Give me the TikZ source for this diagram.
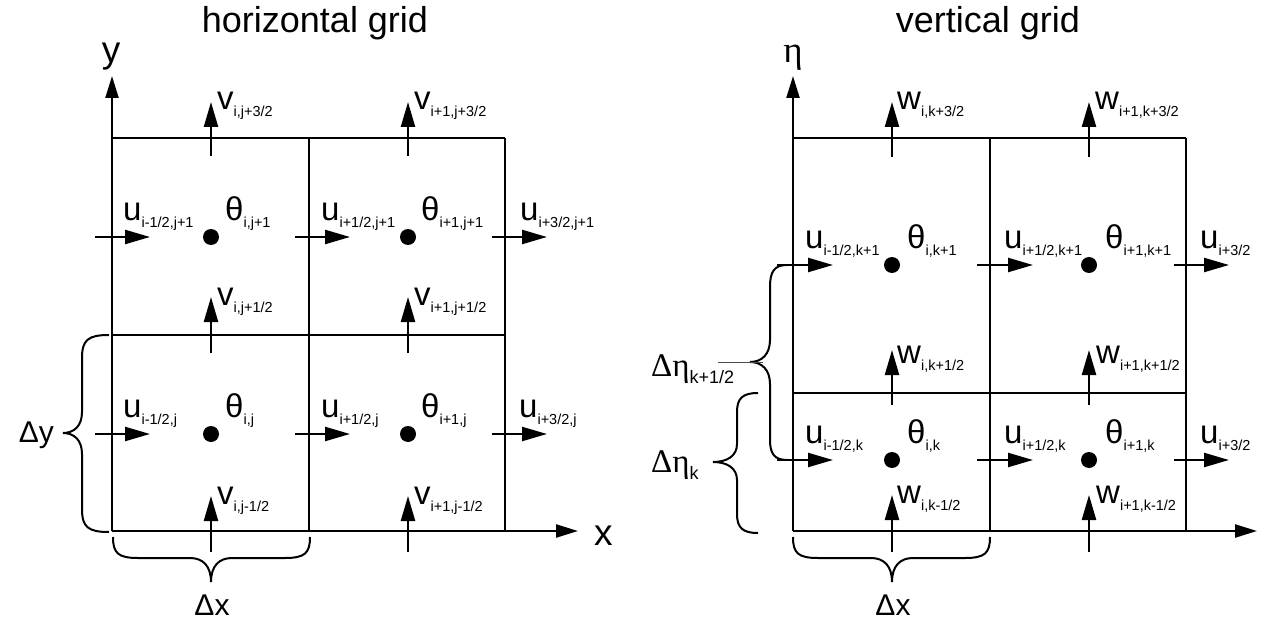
\documentclass[tikz,border=0pt]{standalone}
\usepackage{fontspec}
\setmainfont{Liberation Sans}
\newfontfamily\serifgr{Liberation Serif}
\usetikzlibrary{arrows.meta}
\newcommand\sym[2]{\fontsize{33}{33}\selectfont #1\raisebox{-7pt}{\fontsize{14.5}{15}\selectfont #2}}
\newcommand\deta[1]{{\serifgr\fontsize{33}{33}\selectfont Δη}\raisebox{-7pt}{\fontsize{18}{18}\selectfont #1}}
\begin{document}
\begin{tikzpicture}[x=1pt,y=-1pt,
  gridline/.style={line width=2.3pt},
  vec/.style={line width=2.3pt,-{Triangle[length=25pt,width=14pt]}},
  axis/.style={line width=2.3pt,-{Triangle[length=22pt,width=13pt]}},
  lab/.style={anchor=base west,inner sep=0pt},
  dotnode/.style={circle,fill,inner sep=0pt,minimum size=16pt},
  bracepath/.style={line width=2pt},
  ttl/.style={anchor=base,inner sep=0pt,font=\fontsize{36}{36}\selectfont},
  dlab/.style={inner sep=0pt,font=\fontsize{30}{30}\selectfont}]
\useasboundingbox (0,0) rectangle (1264,623);
\fill[white] (0,0) rectangle (1264,623);

% ================= horizontal grid =================
\node[ttl] (t1) at (315,33) {horizontal grid};
\coordinate (Lo) at (112,531);
\coordinate (Ly) at (112,76);
\coordinate (Lx) at (578,531);
\draw[axis] (Lo) -- (Ly);
\draw[axis] (Lo) -- (Lx);
\draw[gridline] (112,138) -- (505,138);
\draw[gridline] (112,335) -- (505,335);
\draw[gridline] (309,138) -- (309,531);
\draw[gridline] (505,138) -- (505,531);
\node[anchor=base,inner sep=0pt,font=\fontsize{37}{37}\selectfont] (ylab) at (111,63) {y};
\node[anchor=base west,inner sep=0pt,font=\fontsize{37}{37}\selectfont] (xlab) at (594,545) {x};

% u arrows
\foreach \y in {237,434}{
  \coordinate (a1) at (95,\y);  \coordinate (b1) at (150,\y);
  \coordinate (a2) at (295,\y); \coordinate (b2) at (350,\y);
  \coordinate (a3) at (492,\y); \coordinate (b3) at (547,\y);
  \draw[vec] (a1) -- (b1);
  \draw[vec] (a2) -- (b2);
  \draw[vec] (a3) -- (b3);
}
% v arrows
\foreach \s/\t in {156/102,353/297,552/496}{
  \coordinate (c1) at (211,\s); \coordinate (d1) at (211,\t);
  \coordinate (c2) at (408,\s); \coordinate (d2) at (408,\t);
  \draw[vec] (c1) -- (d1);
  \draw[vec] (c2) -- (d2);
}
\node[dotnode] (p11) at (211,237) {};
\node[dotnode] (p21) at (408,237) {};
\node[dotnode] (p10) at (211,434) {};
\node[dotnode] (p20) at (408,434) {};

\node[lab] (lv1) at (217,110) {\sym{v}{i,j+3/2}};
\node[lab] (lv2) at (414,110) {\sym{v}{i+1,j+3/2}};
\node[lab] (lu1) at (123,220) {\sym{u}{i-1/2,j+1}};
\node[lab] (lt1) at (225,220) {\sym{θ}{i,j+1}};
\node[lab] (lu2) at (321,220) {\sym{u}{i+1/2,j+1}};
\node[lab] (lt2) at (421,220) {\sym{θ}{i+1,j+1}};
\node[lab] (lu3) at (520,220) {\sym{u}{i+3/2,j+1}};
\node[lab] (lv3) at (217,305) {\sym{v}{i,j+1/2}};
\node[lab] (lv4) at (414,305) {\sym{v}{i+1,j+1/2}};
\node[lab] (lu4) at (123,417) {\sym{u}{i-1/2,j}};
\node[lab] (lt3) at (225,417) {\sym{θ}{i,j}};
\node[lab] (lu5) at (321,417) {\sym{u}{i+1/2,j}};
\node[lab] (lt4) at (421,417) {\sym{θ}{i+1,j}};
\node[lab] (lu6) at (519,417) {\sym{u}{i+3/2,j}};
\node[lab] (lv5) at (217,504) {\sym{v}{i,j-1/2}};
\node[lab] (lv6) at (414,504) {\sym{v}{i+1,j-1/2}};

% braces
\draw[bracepath] (109,335) .. controls (88,335) and (82,340) .. (82,358) -- (82,412)
  .. controls (82,426) and (74,433) .. (63,433)
  .. controls (74,433) and (82,440) .. (82,454) -- (82,509)
  .. controls (82,527) and (88,532) .. (109,532);
\node[dlab,anchor=base east] (dy) at (54,442) {Δy};
\draw[bracepath] (113,537) .. controls (113,553) and (118,558) .. (138,558) -- (190,558)
  .. controls (203,558) and (211,566) .. (211,582)
  .. controls (211,566) and (219,558) .. (232,558) -- (285,558)
  .. controls (305,558) and (310,553) .. (310,537);
\node[dlab,anchor=base] (dx1) at (212,615) {Δx};

% ================= vertical grid =================
\node[ttl] (t2) at (988,33) {vertical grid};
\coordinate (Ro) at (793,531);
\coordinate (Ry) at (793,76);
\coordinate (Rx) at (1257,531);
\draw[axis] (Ro) -- (Ry);
\draw[axis] (Ro) -- (Rx);
\draw[gridline] (793,138) -- (1186,138);
\draw[gridline] (793,393) -- (1186,393);
\draw[gridline] (990,138) -- (990,531);
\draw[gridline] (1186,138) -- (1186,531);
\node[anchor=base,inner sep=0pt,font=\serifgr\fontsize{37}{37}\selectfont] (etalab) at (793,63) {η};

\foreach \y in {265,460}{
  \coordinate (e1) at (777,\y);  \coordinate (f1) at (833,\y);
  \coordinate (e2) at (977,\y);  \coordinate (f2) at (1033,\y);
  \coordinate (e3) at (1174,\y); \coordinate (f3) at (1229,\y);
  \draw[vec] (e1) -- (f1);
  \draw[vec] (e2) -- (f2);
  \draw[vec] (e3) -- (f3);
}
\foreach \s/\t in {157/102,405/350,552/495}{
  \coordinate (g1) at (892,\s);  \coordinate (h1) at (892,\t);
  \coordinate (g2) at (1089,\s); \coordinate (h2) at (1089,\t);
  \draw[vec] (g1) -- (h1);
  \draw[vec] (g2) -- (h2);
}
\node[dotnode] (q11) at (892,265) {};
\node[dotnode] (q21) at (1089,265) {};
\node[dotnode] (q10) at (892,460) {};
\node[dotnode] (q20) at (1089,460) {};

\node[lab] (rw1) at (897,110) {\sym{w}{i,k+3/2}};
\node[lab] (rw2) at (1095,110) {\sym{w}{i+1,k+3/2}};
\node[lab] (ru1) at (805,248) {\sym{u}{i-1/2,k+1}};
\node[lab] (rt1) at (907,248) {\sym{θ}{i,k+1}};
\node[lab] (ru2) at (1004,248) {\sym{u}{i+1/2,k+1}};
\node[lab] (rt2) at (1105,248) {\sym{θ}{i+1,k+1}};
\node[lab] (ru3) at (1200,248) {\sym{u}{i+3/2}};
\node[lab] (rw3) at (897,363) {\sym{w}{i,k+1/2}};
\node[lab] (rw4) at (1096,363) {\sym{w}{i+1,k+1/2}};
\node[lab] (ru4) at (805,443) {\sym{u}{i-1/2,k}};
\node[lab] (rt3) at (907,443) {\sym{θ}{i,k}};
\node[lab] (ru5) at (1004,443) {\sym{u}{i+1/2,k}};
\node[lab] (rt4) at (1105,443) {\sym{θ}{i+1,k}};
\node[lab] (ru6) at (1200,443) {\sym{u}{i+3/2}};
\node[lab] (rw5) at (897,503) {\sym{w}{i,k-1/2}};
\node[lab] (rw6) at (1096,503) {\sym{w}{i+1,k-1/2}};

% braces
\draw[bracepath] (787,265) .. controls (774,265) and (770,272) .. (770,287) -- (770,340)
  .. controls (770,354) and (762,362) .. (750,362)
  .. controls (762,362) and (770,370) .. (770,384) -- (770,440)
  .. controls (770,453) and (774,460) .. (787,460);
\draw[line width=1pt,black!70] (718,362) -- (763,362);
\node[lab] (de1) at (651,376) {\deta{k+1/2}};
\draw[bracepath] (758,393) .. controls (743,393) and (737,398) .. (737,412) -- (737,444)
  .. controls (737,456) and (727,462) .. (713,462)
  .. controls (727,462) and (737,468) .. (737,480) -- (737,514)
  .. controls (737,528) and (743,533) .. (758,533);
\node[lab] (de2) at (651,472) {\deta{k}};
\draw[bracepath] (793,537) .. controls (793,553) and (798,558) .. (818,558) -- (871,558)
  .. controls (884,558) and (892,566) .. (892,582)
  .. controls (892,566) and (900,558) .. (913,558) -- (965,558)
  .. controls (985,558) and (990,553) .. (990,537);
\node[dlab,anchor=base] (dx2) at (893,615) {Δx};
\end{tikzpicture}
\end{document}
